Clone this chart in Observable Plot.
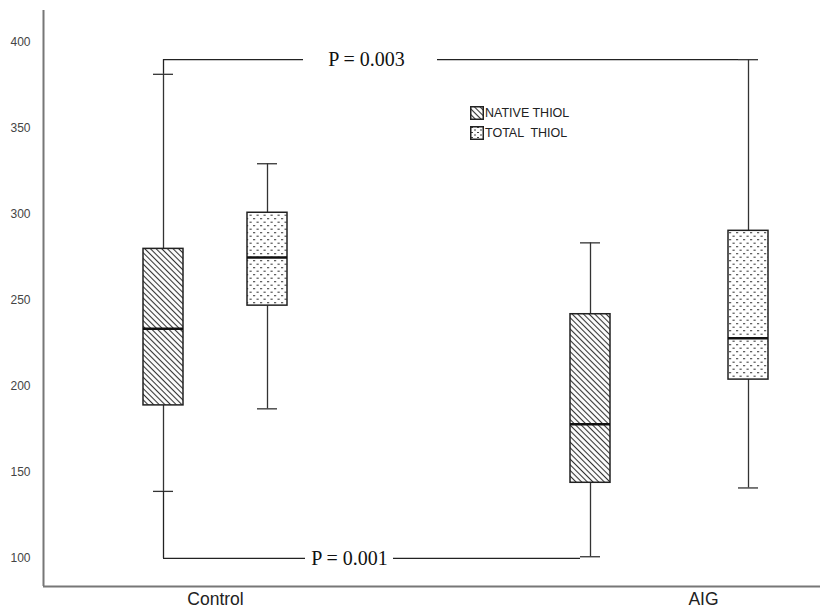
<!DOCTYPE html>
<html><head><meta charset="utf-8">
<script src="https://cdn.jsdelivr.net/npm/d3@7"></script>
<script src="https://cdn.jsdelivr.net/npm/@observablehq/plot@0.6"></script>
<style>
body{margin:0;background:#fff;}
#wrap{position:relative;width:830px;height:612px;overflow:hidden;}
#legend{position:absolute;left:470px;top:103px;font:12.5px "Liberation Sans",Arial,sans-serif;color:#222;}
#legend div{display:flex;align-items:center;height:20px;}
#legend svg{margin-right:1px;}
</style></head><body><div id="wrap"></div>
<script>
// ---- data ----
const categories = ["Control", "AIG"];
const series = ["NATIVE THIOL", "TOTAL  THIOL"];
// [category][series]
const whiskerLow  = [[139, 187], [101, 141]];
const q1Values    = [[189, 247], [144, 204]];
const medians     = [[233.5, 275], [178, 228]];
const q3Values    = [[280, 301], [242, 290.5]];
const whiskerHigh = [[381.5, 329.5], [283.5, 390]];
const yTicks = [100, 150, 200, 250, 300, 350, 400];
const pLabels = ["P = 0.003", "P = 0.001"];
const pLevels = [390, 100];

// ---- layout (not data) ----
const slots = [[120, 224], [547, 705]];
const labelX = [172, 660];
const half = 20, capHalf = 10;

const rows = [];
categories.forEach((c, i) => series.forEach((s, j) => rows.push({
  cat: c, ser: s, j, pos: slots[i][j],
  lo: whiskerLow[i][j], q1: q1Values[i][j], med: medians[i][j], q3: q3Values[i][j], hi: whiskerHigh[i][j]
})));
const native = rows.filter(d => d.j === 0), total = rows.filter(d => d.j === 1);
const cn = rows[0], an = rows[2], at = rows[3];

const topBracket = [{x1: cn.pos, x2: 260, y: pLevels[0]}, {x1: 394, x2: at.pos - capHalf, y: pLevels[0]}];
const botBracket = [{x1: cn.pos, x2: 262, y: pLevels[1]}, {x1: 350, x2: an.pos - capHalf, y: pLevels[1]}];

const whisk = {stroke: "#333", strokeWidth: 1.3};
const plot = Plot.plot({
  width: 830, height: 612,
  marginLeft: 43, marginRight: 10, marginTop: 10, marginBottom: 26,
  x: {domain: [0, 777], axis: null},
  y: {domain: [83.7, 418.6], axis: null},
  style: {background: "white"},
  marks: [
    Plot.axisY({ticks: yTicks, tickSize: 0, tickPadding: 13, fontSize: 12, fontFamily: "Liberation Sans, Arial, sans-serif", color: "#444"}),
    Plot.ruleX(rows, {x: "pos", y1: "lo", y2: "q1", ...whisk}),
    Plot.ruleX(rows, {x: "pos", y1: "q3", y2: "hi", ...whisk}),
    Plot.ruleY(rows, {y: "hi", x1: d => d.pos - capHalf, x2: d => d.pos + capHalf, ...whisk}),
    Plot.ruleY(rows, {y: "lo", x1: d => d.pos - capHalf, x2: d => d.pos + capHalf, ...whisk}),
    Plot.rect(native, {x1: d => d.pos - half, x2: d => d.pos + half, y1: "q1", y2: "q3", fill: "url(#hatch)", stroke: "#222", strokeWidth: 1.5}),
    Plot.rect(total, {x1: d => d.pos - half, x2: d => d.pos + half, y1: "q1", y2: "q3", fill: "url(#dots)", stroke: "#222", strokeWidth: 1.5}),
    Plot.ruleY(rows, {y: "med", x1: d => d.pos - half, x2: d => d.pos + half, stroke: "#111", strokeWidth: 2.5}),
    // significance brackets
    Plot.ruleX([cn], {x: "pos", y1: "hi", y2: () => pLevels[0], stroke: "#222", strokeWidth: 1.3}),
    Plot.ruleX([cn], {x: "pos", y1: "lo", y2: () => pLevels[1], stroke: "#222", strokeWidth: 1.3}),
    Plot.ruleY(topBracket, {x1: "x1", x2: "x2", y: "y", stroke: "#222", strokeWidth: 1.3}),
    Plot.ruleY(botBracket, {x1: "x1", x2: "x2", y: "y", stroke: "#222", strokeWidth: 1.3}),
    Plot.text([pLabels[0]], {x: 323, y: pLevels[0], text: d => d, fontSize: 20, fontFamily: "Liberation Serif, Times New Roman, serif", fill: "#111"}),
    Plot.text([pLabels[1]], {x: 306, y: pLevels[1], text: d => d, fontSize: 20, fontFamily: "Liberation Serif, Times New Roman, serif", fill: "#111"}),
    // axes lines
    Plot.ruleX([0], {stroke: "#777", strokeWidth: 2}),
    Plot.ruleY([83.7], {stroke: "#777", strokeWidth: 2}),
    Plot.text(categories, {x: (d, i) => labelX[i], frameAnchor: "bottom", dy: 18, text: d => d, fontSize: 17.5, fontFamily: "Liberation Sans, Arial, sans-serif", fill: "#222"})
  ]
});

d3.select(plot).insert("defs", ":first-child").html(`
<pattern id="hatch" patternUnits="userSpaceOnUse" width="4" height="4" patternTransform="rotate(45)">
  <rect width="4" height="4" fill="white"/>
  <line x1="0" y1="1.5" x2="4" y2="1.5" stroke="#333" stroke-width="1.1"/>
</pattern>
<pattern id="dots" patternUnits="userSpaceOnUse" width="7" height="7">
  <rect width="7" height="7" fill="white"/>
  <line x1="1" y1="1.7" x2="3.2" y2="1.7" stroke="#444" stroke-width="1.1"/>
  <line x1="4.5" y1="5.2" x2="6.7" y2="5.2" stroke="#444" stroke-width="1.1"/>
</pattern>`);

const wrap = document.getElementById("wrap");
wrap.appendChild(plot);

const legend = document.createElement("div");
legend.id = "legend";
const patIds = ["lhatch", "ldots"];
legend.innerHTML = series.map((s, j) => `<div><svg width="14" height="14"><defs>${
  j === 0
   ? `<pattern id="lhatch" patternUnits="userSpaceOnUse" width="4" height="4" patternTransform="rotate(45)"><rect width="4" height="4" fill="white"/><line x1="0" y1="1.5" x2="4" y2="1.5" stroke="#333" stroke-width="1.1"/></pattern>`
   : `<pattern id="ldots" patternUnits="userSpaceOnUse" width="6" height="5"><rect width="6" height="5" fill="white"/><line x1="1" y1="1.5" x2="3" y2="1.5" stroke="#444"/><line x1="4" y1="4" x2="6" y2="4" stroke="#444"/></pattern>`
}</defs><rect x="0.75" y="0.75" width="12.5" height="12.5" fill="url(#${patIds[j]})" stroke="#222" stroke-width="1.5"/></svg><span style="white-space:pre">${s}</span></div>`).join("");
wrap.appendChild(legend);
</script>
</body></html>
